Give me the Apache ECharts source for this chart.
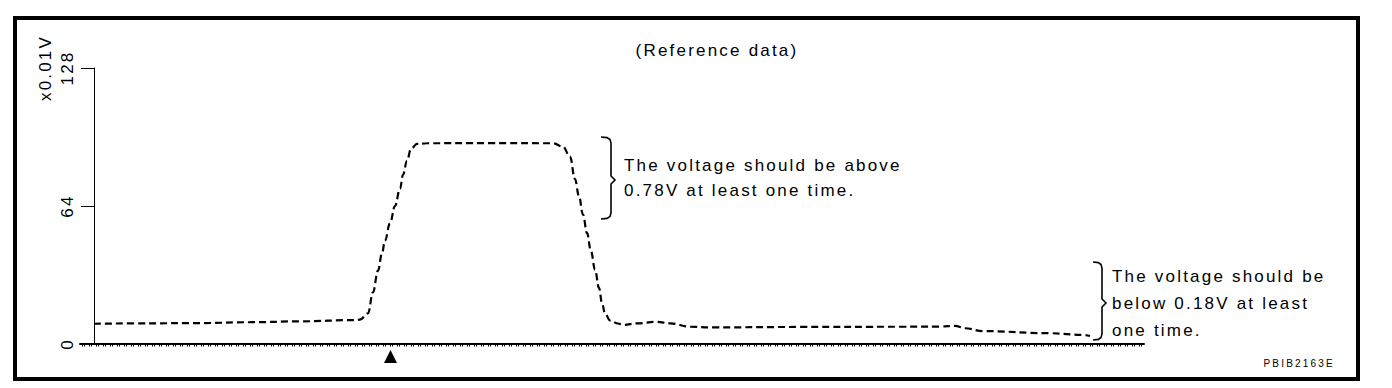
<!DOCTYPE html>
<html>
<head>
<meta charset="utf-8">
<script src="https://cdn.jsdelivr.net/npm/echarts@6/dist/echarts.min.js"></script>
<style>
  html, body { margin: 0; padding: 0; background: #fff; }
  #chart { width: 1392px; height: 388px; }
  #chart svg text { letter-spacing: 2.2px; }
</style>
</head>
<body>
<div id="chart"></div>
<script>
// ---- data ----
const sampleX = [0, 56, 106, 156, 206, 261, 266, 274, 279, 284, 288, 291, 296, 301, 306, 309, 313, 317, 323, 333,
  396, 459, 469, 476, 481, 485, 489, 493, 497, 501, 505, 508, 511, 516, 524, 529, 543, 563, 576, 596,
  619, 706, 806, 846, 861, 871, 889, 956, 989, 996];
const voltage = [9.4, 9.6, 9.7, 10.1, 10.5, 11.1, 11.3, 14.2, 24, 34, 42, 48, 56, 64, 72, 78.5, 85, 90.5, 92.8, 93.1,
  93.2, 93.1, 91.5, 86.9, 76.5, 68.5, 60, 51.5, 43, 34.5, 26, 19, 14.2, 10.9, 9.5, 8.8, 9.6, 10.3, 9.6, 8.0,
  7.7, 7.9, 8.0, 8.1, 8.4, 7.3, 6.0, 5.0, 4.2, 3.7];
const yTicks = [0, 64, 128];
const yUnit = 'x0.01V';
const titleText = '(Reference data)';
const noteAbove = ['The voltage should be above', '0.78V at least one time.'];
const noteBelow = ['The voltage should be', 'below 0.18V at least', 'one time.'];
const figureCode = 'PBIB2163E';

const FONT = "'Liberation Sans', Arial, sans-serif";
const chart = echarts.init(document.getElementById('chart'), null, { renderer: 'svg' });

const points = sampleX.map((x, i) => [x, voltage[i]]);

const txt = (x, y, text, size, align, rot) => ({
  type: 'text', x: x, y: y, rotation: rot || 0,
  style: { text: text, fill: '#000', font: size + 'px ' + FONT, textAlign: align || 'left', textVerticalAlign: 'middle' }
});

// curly brace drawn as a polyline: x = hook end, xv = vertical stroke, tip = point x, top/mid/bottom y
const brace = (x, xv, tip, top, mid, bottom) => ({
  type: 'polyline',
  shape: { points: [
    [x, top], [x + (xv - x) * 0.6, top + 0.6], [xv - 1, top + 2.5], [xv, top + 6],
    [xv, mid - 4], [tip, mid], [xv, mid + 4],
    [xv, bottom - 6], [xv - 1, bottom - 2.5], [x + (xv - x) * 0.6, bottom - 0.6], [x, bottom]
  ] },
  style: { fill: null, stroke: '#000', lineWidth: 1.6 }
});

chart.setOption({
  animation: false,
  backgroundColor: '#fff',
  grid: { left: 80, right: 248, top: 68, bottom: 44 },
  xAxis: {
    type: 'value', min: -14, max: 1050, interval: 7,
    axisLine: { show: true, onZero: true, lineStyle: { color: '#000', width: 2 } },
    axisTick: { show: false },
    minorTick: { show: true, splitNumber: 3, length: 2.5, lineStyle: { color: '#000', width: 1 } },
    axisLabel: { show: false },
    splitLine: { show: false }
  },
  yAxis: {
    type: 'value', min: yTicks[0], max: yTicks[yTicks.length - 1], interval: yTicks[1] - yTicks[0],
    axisLine: { show: true, onZero: true, lineStyle: { color: '#000', width: 1 } },
    axisTick: { show: true, length: 13, lineStyle: { color: '#000', width: 1 } },
    axisLabel: { show: true, rotate: 90, margin: 4, color: '#000', fontSize: 17, fontFamily: FONT },
    splitLine: { show: false }
  },
  series: [{
    type: 'line',
    data: points,
    showSymbol: false,
    smooth: 0.4,
    smoothMonotone: 'x',
    lineStyle: { color: '#000', width: 2.2, type: [7, 4] }
  }],
  graphic: [
    { type: 'rect', shape: { x: 15, y: 18, width: 1343, height: 361 },
      style: { fill: null, stroke: '#000', lineWidth: 4 } },
    txt(45.5, 68, yUnit, 17, 'center', Math.PI / 2),
    txt(717, 50, titleText, 17, 'center'),
    txt(624, 165, noteAbove[0], 17),
    txt(624, 190, noteAbove[1], 17),
    txt(1112, 276, noteBelow[0], 17),
    txt(1112, 303, noteBelow[1], 17),
    txt(1112, 330, noteBelow[2], 17),
    txt(1335, 363, figureCode, 10, 'right'),
    brace(601, 611, 615, 137, 180, 219),
    brace(1093, 1102, 1106, 262, 303, 340),
    { type: 'polygon', shape: { points: [[384, 363], [397, 363], [390.5, 350]] },
      style: { fill: '#000' } }
  ]
});
</script>
</body>
</html>
